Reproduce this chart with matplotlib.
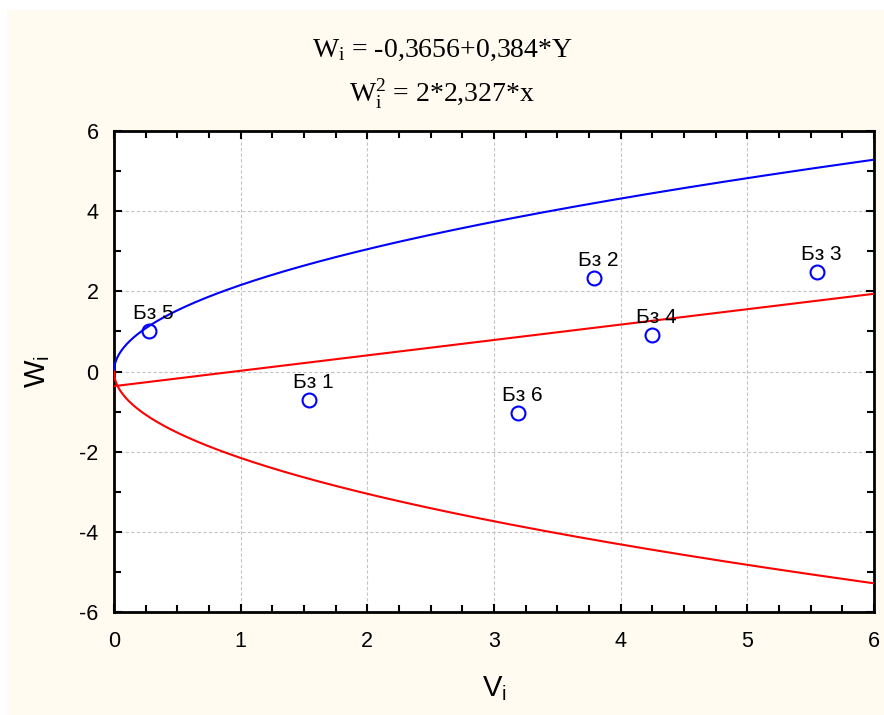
import numpy as np
import matplotlib
matplotlib.use("Agg")
import matplotlib.pyplot as plt
from matplotlib.patches import Rectangle
from matplotlib.ticker import MultipleLocator

plt.rcParams["axes.unicode_minus"] = False

# Data
labels = ["Бз 1", "Бз 2", "Бз 3", "Бз 4", "Бз 5", "Бз 6"]
v_vals = [1.54, 3.79, 5.55, 4.25, 0.28, 3.19]
w_vals = [-0.71, 2.33, 2.48, 0.91, 1.01, -1.04]

line_a = -0.3656
line_b = 0.384
parab_p = 2.327

fig = plt.figure(figsize=(8.84, 7.15), dpi=100, facecolor="white")
bg = Rectangle((7 / 884, 0), 1, 1 - 10 / 715, transform=fig.transFigure,
               facecolor="#FFFBF0", edgecolor="none", zorder=-10)
fig.patches.append(bg)

ax = fig.add_axes([114 / 884, 1 - 612 / 715, (874 - 114) / 884, (612 - 131) / 715])
ax.set_facecolor("white")

x = np.linspace(0, 6, 2000)
w_par = np.sqrt(2 * parab_p * x)
ax.plot(x, w_par, color="#0000FF", lw=1.5, zorder=3)
ax.plot(x, -w_par, color="#FF0000", lw=1.5, zorder=3)
ax.plot(x, line_a + line_b * x, color="#FF0000", lw=1.5, zorder=3)

ax.plot(v_vals, w_vals, linestyle="none", marker="o", markersize=10,
        markerfacecolor="none", markeredgecolor="#0000FF", markeredgewidth=1.5, zorder=4)
for lab, vx, wy in zip(labels, v_vals, w_vals):
    ax.annotate(lab, (vx, wy), xytext=(3, 6), textcoords="offset points",
                ha="center", va="bottom", fontsize=15, family="Liberation Sans", zorder=5)

ax.set_xlim(0, 6)
ax.set_ylim(-6, 6)
ax.xaxis.set_major_locator(MultipleLocator(1))
ax.xaxis.set_minor_locator(MultipleLocator(0.25))
ax.yaxis.set_major_locator(MultipleLocator(2))
ax.yaxis.set_minor_locator(MultipleLocator(1))
ax.grid(True, which="major", color="#C4C4C4", linestyle=(0, (3, 2)), lw=0.8)
ax.set_axisbelow(True)

for s in ax.spines.values():
    s.set_linewidth(2)
    s.set_color("black")

ax.tick_params(which="both", direction="in", top=True, right=True, width=1.5)
ax.tick_params(which="major", length=6, labelsize=15.5)
ax.tick_params(which="minor", length=5)
ax.tick_params(axis="x", which="major", pad=14)
ax.tick_params(axis="y", which="major", pad=11)
for t in ax.get_xticklabels() + ax.get_yticklabels():
    t.set_family("Liberation Sans")
ax.tick_params(axis="y", labelright=False)
ax.tick_params(axis="x", labeltop=False)

ax.set_xlabel(r"$\mathregular{V_i}$", fontsize=21, family="Liberation Sans", labelpad=16)
ax.set_ylabel(r"$\mathregular{W_i}$", fontsize=21, family="Liberation Sans", labelpad=20)

fig.text(0.5, 1 - 50 / 715, r"$\mathregular{W_i}$ = -0,3656+0,384*Y", ha="center", va="center",
         fontsize=20, family="Liberation Serif")
fig.text(0.5, 1 - 94 / 715, r"$\mathregular{W_i^2}$ = 2*2,327*x", ha="center", va="center",
         fontsize=20, family="Liberation Serif")

fig.savefig("out.png", dpi=100, facecolor=fig.get_facecolor())
